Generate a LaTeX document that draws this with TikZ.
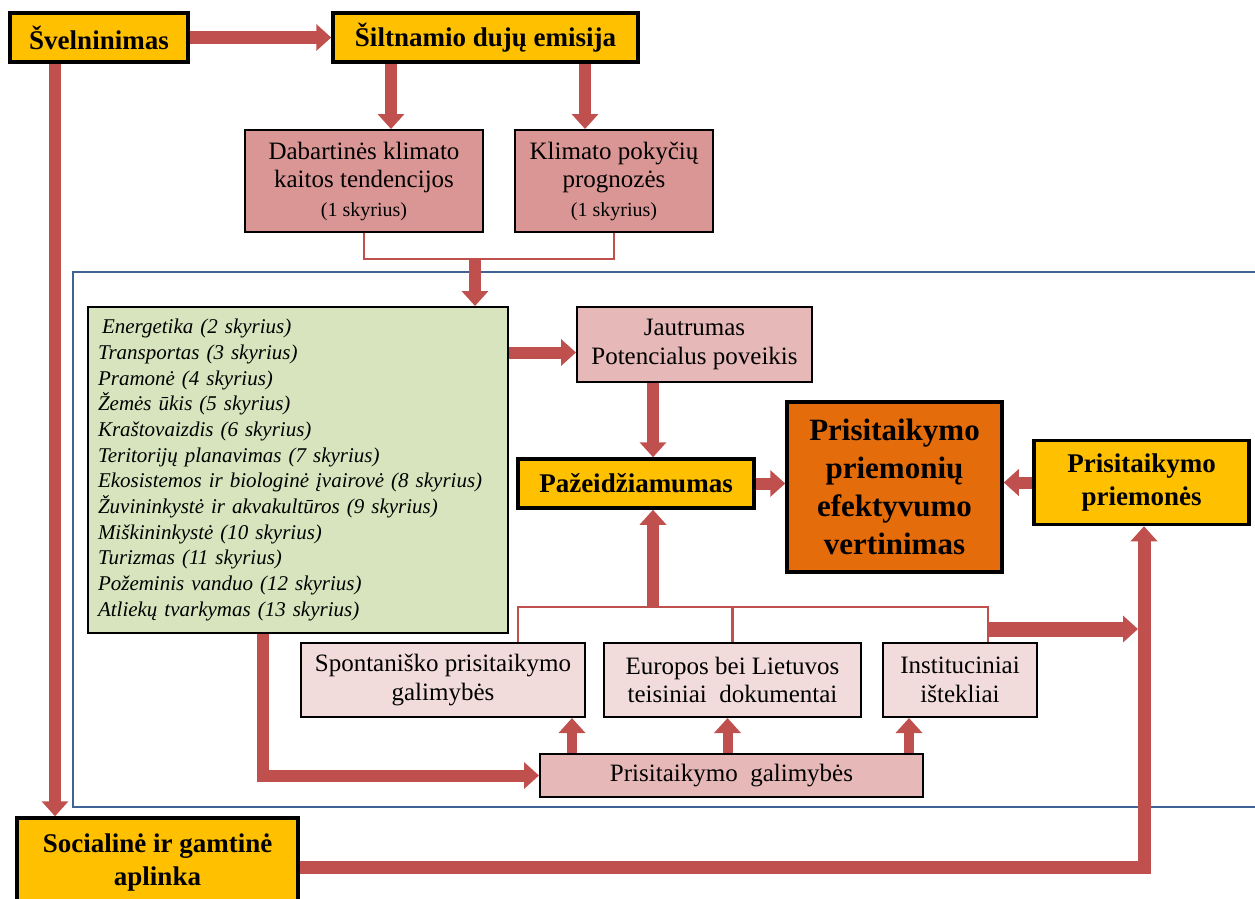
\documentclass[tikz,border=0pt]{standalone}
\usepackage{fontspec}
\setmainfont{Liberation Serif}
\usepackage{xcolor}
\definecolor{arrowred}{HTML}{C0504D}
\definecolor{gold}{HTML}{FFC000}
\definecolor{burnt}{HTML}{E46C0A}
\definecolor{rose}{HTML}{D99694}
\definecolor{blush}{HTML}{E6B9B8}
\definecolor{pale}{HTML}{F2DCDB}
\definecolor{sage}{HTML}{D7E4BD}
\definecolor{steel}{HTML}{3F6393}
\usetikzlibrary{arrows.meta,calc}

\begin{document}
\begin{tikzpicture}[x=1pt,y=-1pt,
	box/.style={draw=black,line width=2pt,inner sep=0pt,align=center,font=\fontsize{25}{28.5}\selectfont},
	goldbox/.style={box,fill=gold,line width=3.5pt,font=\fontsize{27}{33}\selectfont\bfseries},
	arr/.style={draw=arrowred,line width=12pt,-{Triangle[width=26pt,length=15pt]}},
	bus/.style={draw=arrowred,line width=2.5pt}]
	\useasboundingbox (0,0) rectangle (1255,898);
	
	%%% frame of the sectors
	\draw[steel,line width=2.5pt] (73,272) rectangle (1275,807);
	
	%%% top row
	\node[goldbox,minimum width=178,minimum height=49] (svel) at (99,37.5) {Švelninimas};
	\node[goldbox,minimum width=305,minimum height=49] (silt) at (485.5,37.5) {Šiltnamio dujų emisija};
	\node[box,fill=rose,minimum width=238,minimum height=102] (dab) at (364,181)
	{Dabartinės klimato\\kaitos tendencijos\\{\fontsize{20}{25}\selectfont (1 skyrius)}};
	\node[box,fill=rose,minimum width=198,minimum height=102] (klim) at (614,181)
	{Klimato pokyčių\\prognozės\\{\fontsize{20}{25}\selectfont (1 skyrius)}};
	
	%%% sectors
	\node[box,fill=sage,anchor=north west,minimum height=326,text width=400,inner xsep=10pt,align=left,
	font=\fontsize{21}{25.7}\selectfont\itshape] (sektor) at (87,306)
	{\hspace{4pt}Energetika (2 skyrius)\\
		Transportas (3 skyrius)\\
		Pramonė (4 skyrius)\\
		Žemės ūkis (5 skyrius)\\
		Kraštovaizdis (6 skyrius)\\
		Teritorijų planavimas (7 skyrius)\\
		Ekosistemos ir biologinė įvairovė (8 skyrius)\\
		Žuvininkystė ir akvakultūros (9 skyrius)\\
		Miškininkystė (10 skyrius)\\
		Turizmas (11 skyrius)\\
		Požeminis vanduo (12 skyrius)\\
		Atliekų tvarkymas (13 skyrius)};
	
	%%% middle
	\node[box,fill=blush,minimum width=235,minimum height=75] (jaut) at (694.5,344.5) {Jautrumas\\Potencialus poveikis};
	\node[goldbox,minimum width=236,minimum height=49] (paz) at (636,483.5) {Pažeidžiamumas};
	\node[box,fill=burnt,line width=3.5pt,minimum width=215,minimum height=170,
	font=\fontsize{31}{38}\selectfont\bfseries] (vert) at (894.5,487)
	{Prisitaikymo\\priemonių\\efektyvumo\\vertinimas};
	\node[goldbox,minimum width=215,minimum height=84] (priem) at (1141.5,482.5) {Prisitaikymo\\priemonės};
	
	%%% lower row
	\node[box,fill=pale,minimum width=284,minimum height=74] (spont) at (443,680) {Spontaniško prisitaikymo\\galimybės};
	\node[box,fill=pale,minimum width=257,minimum height=74] (teis) at (732.5,680) {Europos bei Lietuvos\\teisiniai\ \ dokumentai};
	\node[box,fill=pale,minimum width=154,minimum height=74] (inst) at (960,680) {Instituciniai\\ištekliai};
	\node[box,fill=blush,minimum width=383,minimum height=43] (galim) at (731.5,775.5) {Prisitaikymo\ \ galimybės};
	\node[goldbox,minimum width=281,minimum height=89] (soc) at (157.5,862.5) {Socialinė ir gamtinė\\aplinka};
	
	%%% helper points
	\path ([xshift=27pt]dab.north) coordinate (d1)
	([xshift=-29pt]klim.north) coordinate (k1)
	([yshift=-8pt]jaut.west) coordinate (j1)
	([xshift=17pt]paz.north) coordinate (p1)
	([xshift=75pt]spont.north) coordinate (s1)
	([xshift=28pt]inst.north) coordinate (i1)
	([xshift=-44pt]svel.south) coordinate (v1)
	([xshift=-35pt]sektor.south) coordinate (g1);
	\coordinate (merge) at (475,259);
	\coordinate (busy) at (0,607);
	\coordinate (i2) at (988,629);
	\coordinate (riser) at (1144,867);
	
	%%% connectors
	\draw[arr,line width=13pt] (svel.east) -- (silt.west);
	\draw[arr] (d1 |- silt.south) -- (d1);
	\draw[arr] (k1 |- silt.south) -- (k1);
	\draw[bus] (dab.south) |- (merge) -| (klim.south);
	\draw[arr] (merge) -- (merge |- sektor.north);
	\draw[arr] (j1 -| sektor.east) -- (j1);
	\draw[arr] (p1 |- jaut.south) -- (p1);
	\draw[arr] (paz.east) -- (paz.east -| vert.west);
	\draw[arr] (priem.west) -- (priem.west -| vert.east);
	\draw[bus] (s1) -- (s1 |- busy) -- (i1 |- busy) -- (i1);
	\draw[bus] (teis.north) -- (teis.north |- busy);
	\draw[arr] (p1 |- busy) -- (p1 |- paz.south);
	\draw[arr,line width=15pt] (i2) -- ([xshift=-6pt]i2 -| riser);
	\draw[arr,line width=13pt] (riser -| soc.east) -- (riser) -- (riser |- priem.south);
	\draw[arr] (g1) |- (galim.west);
	\draw[arr] (v1) -- (v1 |- soc.north);
	\foreach \b/\dx in {spont/129,teis/-5,inst/-51}{
		\path ([xshift=\dx pt]\b.south) coordinate (u);
		\draw[arr,line width=10pt] (u |- galim.north) -- (u);
	}
\end{tikzpicture}
\end{document}
